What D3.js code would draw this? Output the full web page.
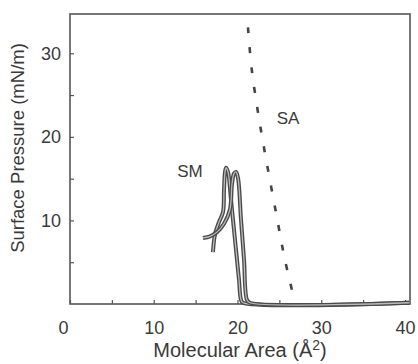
<!DOCTYPE html>
<html>
<head>
<meta charset="utf-8">
<script src="https://cdn.jsdelivr.net/npm/d3@7"></script>
<style>
  body { margin: 0; background: #fff; }
  svg text { font-family: "Liberation Sans", Arial, sans-serif; fill: #3a3a3a; }
</style>
</head>
<body>
<div id="chart"></div>
<script>
const WIDTH = 418;
const HEIGHT = 364;
const margin = { top: 14, right: 8, bottom: 60, left: 70 };

// SA isotherm (dotted)
const saArea = [21.25, 21.7, 22.6, 23.6, 24.7, 25.6, 26.5];
const saPressure = [33.1, 28.1, 22.0, 16.3, 10.4, 5.6, 1.7];

// SM isotherms (two compression runs)
const smAArea = [17.07, 17.31, 17.79, 18.27, 18.39, 18.51, 18.63, 18.87, 19.22, 19.7, 20.18, 20.42, 20.66, 40.5];
const smAPressure = [6.2, 8.3, 9.8, 11.0, 13.6, 15.8, 16.3, 15.8, 12.5, 7.7, 2.9, 0.5, 0.15, 0.15];
const smBArea = [15.88, 16.72, 17.55, 18.39, 19.1, 19.34, 19.58, 19.82, 20.06, 20.42, 20.78, 21.13, 21.49, 40.5];
const smBPressure = [7.9, 8.1, 8.6, 9.6, 11.3, 14.3, 15.6, 15.8, 15.1, 10.1, 5.3, 0.5, 0.15, 0.15];

const xTicks = [0, 5, 10, 15, 20, 25, 30, 35, 40];
const xLabels = [0, 10, 20, 30, 40];
const yTicks = [5, 10, 15, 20, 25, 30];
const yLabels = [10, 20, 30];

const svg = d3.select("#chart").append("svg")
  .attr("width", WIDTH)
  .attr("height", HEIGHT);

const x = d3.scaleLinear().domain([0, 40.6]).range([margin.left, WIDTH - margin.right]);
const y = d3.scaleLinear().domain([0, 34.7]).range([HEIGHT - margin.bottom, margin.top]);

const xAxis = svg.append("g")
  .attr("transform", `translate(0,${y(0)})`)
  .call(d3.axisBottom(x)
    .tickValues(xTicks)
    .tickSizeInner(-4)
    .tickSizeOuter(0)
    .tickPadding(17)
    .tickFormat((d) => (xLabels.includes(d) ? d : "")));

const yAxis = svg.append("g")
  .attr("transform", `translate(${x(0)},0)`)
  .call(d3.axisLeft(y)
    .tickValues(yTicks)
    .tickSizeInner(-4)
    .tickSizeOuter(0)
    .tickPadding(9)
    .tickFormat((d) => (yLabels.includes(d) ? d : "")));

[xAxis, yAxis].forEach((g) => {
  g.select(".domain").remove();
  g.selectAll("line").attr("stroke", "#555").attr("stroke-width", 1.2);
  g.selectAll("text").attr("font-size", 18).attr("fill", "#3a3a3a");
});
// the zero label sits a little left of the frame in the original
xAxis.selectAll(".tick text").filter((d) => d === 0).attr("dx", -7);

// frame
svg.append("rect")
  .attr("x", x(0))
  .attr("y", y(34.7))
  .attr("width", x(40.6) - x(0))
  .attr("height", y(0) - y(34.7))
  .attr("fill", "none")
  .attr("stroke", "#555")
  .attr("stroke-width", 1.6);

const line = d3.line()
  .x((d) => x(d[0]))
  .y((d) => y(d[1]))
  .curve(d3.curveCatmullRom.alpha(0.5));

// SA dotted isotherm
svg.append("path")
  .datum(d3.zip(saArea, saPressure))
  .attr("d", line)
  .attr("fill", "none")
  .attr("stroke", "#444")
  .attr("stroke-width", 2.6)
  .attr("stroke-dasharray", "6,14");

// SM isotherms drawn as outlined strokes
[[smAArea, smAPressure], [smBArea, smBPressure]].forEach(([xs, ys]) => {
  const pts = d3.zip(xs, ys);
  svg.append("path")
    .datum(pts)
    .attr("d", line)
    .attr("fill", "none")
    .attr("stroke", "#4a4a4a")
    .attr("stroke-width", 4)
    .attr("stroke-linejoin", "round");
  svg.append("path")
    .datum(pts)
    .attr("d", line)
    .attr("fill", "none")
    .attr("stroke", "#bbb")
    .attr("stroke-width", 1.3)
    .attr("stroke-linejoin", "round");
});

// curve labels
svg.append("text")
  .attr("x", 190).attr("y", 177)
  .attr("text-anchor", "middle")
  .attr("font-size", 17)
  .text("SM");

svg.append("text")
  .attr("x", 288).attr("y", 124)
  .attr("text-anchor", "middle")
  .attr("font-size", 17)
  .text("SA");

// axis titles
const xTitle = svg.append("text")
  .attr("x", 240).attr("y", 357)
  .attr("text-anchor", "middle")
  .attr("font-size", 20);
xTitle.append("tspan").text("Molecular Area (Å");
xTitle.append("tspan").attr("font-size", 14).attr("dy", -7).text("2");
xTitle.append("tspan").attr("dy", 7).text(")");

svg.append("text")
  .attr("transform", `translate(24,148) rotate(-90)`)
  .attr("text-anchor", "middle")
  .attr("font-size", 18.5)
  .text("Surface Pressure (mN/m)");
</script>
</body>
</html>
